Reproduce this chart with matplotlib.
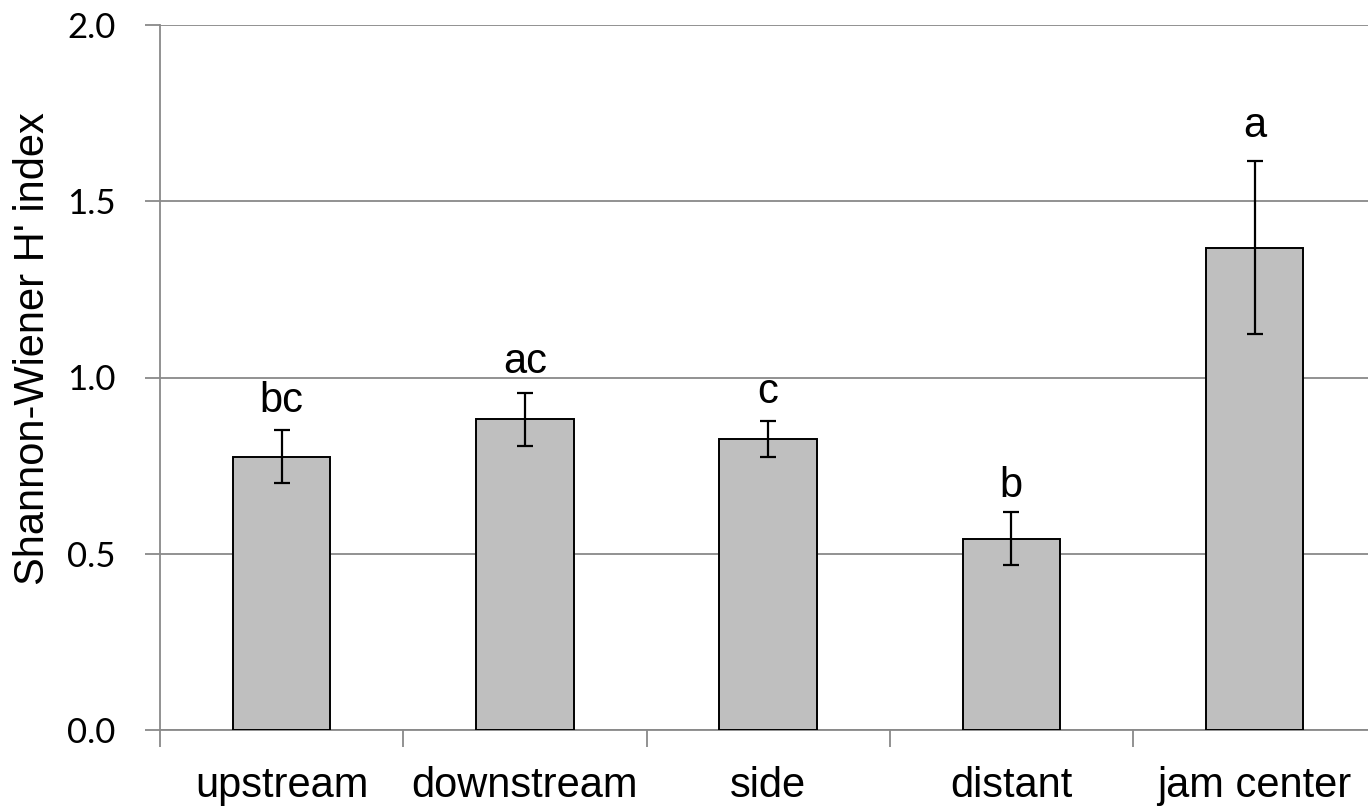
import matplotlib
matplotlib.use("Agg")
import matplotlib.pyplot as plt
from matplotlib.ticker import FixedLocator

categories = ["upstream", "downstream", "side", "distant", "jam center"]
means = [0.775, 0.882, 0.826, 0.543, 1.368]
errors = [0.075, 0.075, 0.052, 0.075, 0.245]
letters = ["bc", "ac", "c", "b", "a"]
letter_y = [0.902, 1.013, 0.927, 0.661, 1.682]
yticks = [0.0, 0.5, 1.0, 1.5, 2.0]
ytick_labels = ["0.0", "0.5", "1.0", "1.5", "2.0"]

W, H = 1368, 806
fig = plt.figure(figsize=(W / 100, H / 100), dpi=100)
ax = fig.add_axes([160 / W, 1 - 730 / H, 1 - 160 / W, (730 - 25) / H])

grid_c = "#898989"
x = list(range(len(categories)))
ax.bar(x, means, width=0.4, color="#BFBFBF", edgecolor="black", linewidth=1.4, zorder=3)
ax.errorbar(x, means, yerr=errors, fmt="none", ecolor="black", elinewidth=1.6,
            capsize=6, capthick=1.6, zorder=4)

for xi, lab, ly in zip(x, letters, letter_y):
    ax.text(xi, ly, lab, ha="center", va="baseline", fontsize=30,
            family="Liberation Sans", color="black", zorder=5)

ax.set_xlim(-0.5, -0.5 + (W - 160) / 243.25)
ax.set_ylim(0, 2.0)

ax.set_yticks(yticks)
ax.set_yticklabels(ytick_labels, family="Lato", fontsize=25)
ax.yaxis.grid(True, color=grid_c, linewidth=1.3, zorder=0)
ax.set_axisbelow(True)

ax.set_xticks(x)
ax.set_xticklabels(categories, family="Liberation Sans", fontsize=30)
ax.xaxis.set_minor_locator(FixedLocator([i - 0.5 for i in range(len(categories) + 1)]))
ax.tick_params(axis="x", which="major", length=0, pad=26)
ax.tick_params(axis="x", which="minor", length=12, width=1.3, color=grid_c)
ax.tick_params(axis="y", which="major", length=11, width=1.3, color=grid_c, pad=21)

for s in ["top", "right"]:
    ax.spines[s].set_visible(False)
for s in ["left", "bottom"]:
    ax.spines[s].set_color(grid_c)
    ax.spines[s].set_linewidth(1.3)

fig.text(33 / W, 1 - 349 / H, "Shannon-Wiener H' index", rotation=90,
         ha="center", va="center", fontsize=30, family="Liberation Sans")

fig.savefig("out.png", dpi=100)
